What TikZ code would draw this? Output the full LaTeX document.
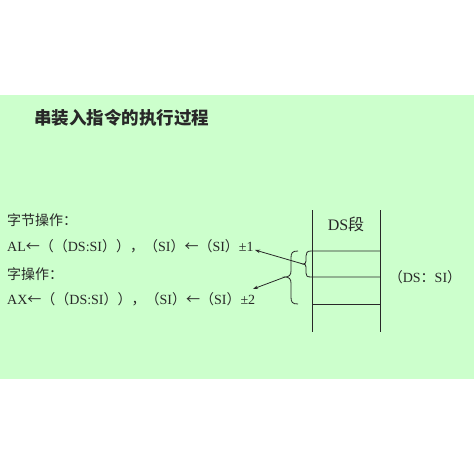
\documentclass[tikz,border=0pt]{standalone}
\usepackage{fontspec}
\setmainfont{Liberation Serif}
\newfontfamily\cjk{Noto Sans CJK SC}
\usetikzlibrary{arrows.meta}
\definecolor{bggreen}{RGB}{204,255,204}
\definecolor{ink}{RGB}{40,40,40}
\begin{document}
\begin{tikzpicture}[x=1pt,y=-1pt,
  txt/.style={anchor=west,inner sep=0pt,text=ink,font=\fontsize{14}{16}\selectfont},
  ln/.style={draw=ink,line width=0.8pt},
  arr/.style={ln,-{Stealth[length=5pt,width=3.5pt]}}]
\useasboundingbox (0,0) rectangle (474,474);
\fill[bggreen] (0,95) rectangle (474,379);
\node[anchor=west,inner sep=0pt,text=ink,font=\cjk\bfseries\fontsize{17.5}{20}\selectfont] (title) at (34,118) {串装入指令的执行过程};
\node[txt] (l1) at (7,220) {\cjk 字节操作：};
\node[txt] (l2) at (7,246) {AL{\cjk ←（（}DS:SI{\cjk ））}{\cjk ，（}SI{\cjk ）←（}SI{\cjk ）}±1};
\node[txt] (l3) at (7,274) {\cjk 字操作：};
\node[txt] (l4) at (7,299) {AX{\cjk ←（（}DS:SI{\cjk ））}{\cjk ，（}SI{\cjk ）←（}SI{\cjk ）}±2};
\node[txt,anchor=center,font=\fontsize{16}{18}\selectfont] (ds) at (346,224) {DS{\cjk 段}};
\node[txt,anchor=center] (addr) at (425,277) {{\cjk （}DS{\cjk ：}SI{\cjk ）}};
% memory segment
\coordinate (vl1) at (312,210); \coordinate (vl2) at (312,332);
\coordinate (vr1) at (380,210); \coordinate (vr2) at (380,332);
\draw[ln] (vl1) -- (vl2);
\draw[ln] (vr1) -- (vr2);
\coordinate (h1r) at (380,251);
\coordinate (h2r) at (380,277);
\coordinate (h3l) at (312,304); \coordinate (h3r) at (380,304);
\coordinate (tip1) at (303,264);
\coordinate (tip2) at (285,277);
\coordinate (pm1) at (255,250);
\coordinate (pm2) at (253,289);
% small brace joined with the cell lines
\draw[ln] (h1r) -- (311,251) .. controls (307,251) and (306,253) .. (306,256) -- (306,261)
  .. controls (306,263) and (305,264) .. (tip1)
  .. controls (305,264) and (306,265) .. (306,267) -- (306,273)
  .. controls (306,276) and (307,277) .. (311,277) -- (h2r);
\draw[ln] (h3l) -- (h3r);
% big brace
\draw[ln] (298,251) .. controls (292,251) and (291,253) .. (291,258) -- (291,271)
  .. controls (291,275) and (289,277) .. (tip2)
  .. controls (289,277) and (291,279) .. (291,283) -- (291,297)
  .. controls (291,302) and (292,304) .. (298,304);
\draw[arr] (tip1) -- (pm1);
\draw[arr] (tip2) -- (pm2);
\end{tikzpicture}
\end{document}
